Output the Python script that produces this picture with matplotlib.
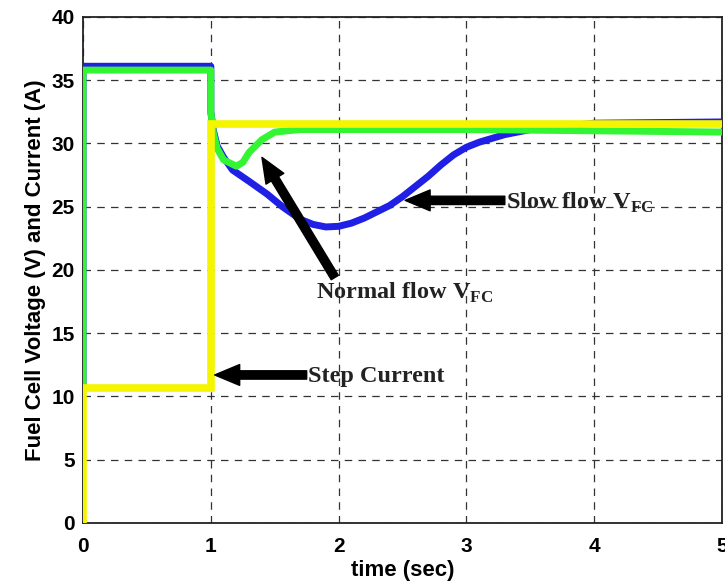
import matplotlib
matplotlib.use("Agg")
import matplotlib.pyplot as plt

plt.rcParams['mathtext.fontset'] = 'custom'
plt.rcParams['mathtext.rm'] = 'Liberation Serif'
plt.rcParams['mathtext.bf'] = 'Liberation Serif:bold'

# Step current (A)
t_cur = [0, 0, 1.0, 1.0, 5.0]
i_cur = [0, 10.7, 10.7, 31.5, 31.5]

# Slow flow fuel cell voltage (V)
t_slow = [0, 0, 1.0, 1.0, 1.02, 1.05, 1.1, 1.17, 1.3, 1.44, 1.56, 1.7, 1.8, 1.9, 2.0,
          2.1, 2.2, 2.3, 2.4, 2.5, 2.6, 2.7, 2.8, 2.9, 3.0, 3.1, 3.2, 3.3, 3.5, 4.0, 5.0]
v_slow = [10.9, 36.1, 36.1, 32.5, 31.0, 29.8, 28.9, 27.9, 27.0, 26.0, 25.0, 24.0, 23.6, 23.4, 23.45,
          23.7, 24.1, 24.6, 25.1, 25.8, 26.6, 27.4, 28.3, 29.1, 29.7, 30.1, 30.4, 30.7, 31.1, 31.6, 31.7]

# Normal flow fuel cell voltage (V)
t_norm = [0, 0, 1.0, 1.0, 1.02, 1.05, 1.1, 1.2, 1.25, 1.3, 1.4, 1.5, 1.7, 3.0, 5.0]
v_norm = [10.9, 35.8, 35.8, 32.5, 30.8, 29.6, 28.7, 28.2, 28.5, 29.3, 30.3, 30.9, 31.1, 31.1, 30.9]

xticks = [0, 1, 2, 3, 4, 5]
yticks = [0, 5, 10, 15, 20, 25, 30, 35, 40]

fig = plt.figure(figsize=(7.25, 5.84), dpi=100)
ax = fig.add_axes([0.1145, 0.1045, 0.8815, 0.8665])

ax.plot(t_slow, v_slow, color='#1f1fe6', lw=5, solid_joinstyle='round', zorder=3)
ax.plot(t_norm, v_norm, color='#33f533', lw=5, solid_joinstyle='round', zorder=4)
ax.plot(t_cur, i_cur, color='#f5f500', lw=5.5, solid_joinstyle='miter', zorder=5)

ax.set_xlim(0, 5)
ax.set_ylim(0, 40)
ax.set_xticks(xticks)
ax.set_yticks(yticks)
ax.grid(True, color='#333333', linestyle=(0, (6, 5)), lw=0.9)
ax.tick_params(direction='in', length=0, labelsize=15)
ax.tick_params(axis='x', pad=10)
ax.tick_params(axis='y', pad=6)
for lab in ax.get_xticklabels() + ax.get_yticklabels():
    lab.set_fontweight('bold')
    lab.set_family('Liberation Sans')
for s in ax.spines.values():
    s.set_linewidth(1.3)
    s.set_color('#222222')

ax.set_xlabel('time (sec)', fontsize=16, fontweight='bold', family='Liberation Sans', labelpad=3)
ax.set_ylabel('Fuel Cell Voltage (V) and Current (A)', fontsize=16, fontweight='bold',
              family='Liberation Sans', labelpad=4)

arrow = dict(arrowstyle='simple,head_width=1.0,head_length=1.2,tail_width=0.4',
             color='black', mutation_scale=15, shrinkA=0, shrinkB=0)
tfont = dict(family='Liberation Serif', fontweight='bold', fontsize=17.5, color='#222222')

ax.annotate('', xy=(1.03, 11.7), xytext=(1.75, 11.7), arrowprops=arrow, zorder=6)
ax.text(1.76, 11.6, 'Step Current', va='center', ha='left', zorder=7, **tfont)

ax.annotate('', xy=(2.52, 25.5), xytext=(3.3, 25.5), arrowprops=arrow, zorder=6)
ax.text(3.31, 25.3, r'Slow flow V$_{\mathbf{FC}}$', va='center', ha='left', zorder=7, **tfont)

ax.annotate('', xy=(1.40, 28.9), xytext=(1.97, 19.4), arrowprops=arrow, zorder=6)
ax.text(1.82, 18.2, r'Normal flow V$_{\mathbf{FC}}$', va='center', ha='left', zorder=7, **tfont)

fig.savefig('out.png', dpi=100)
